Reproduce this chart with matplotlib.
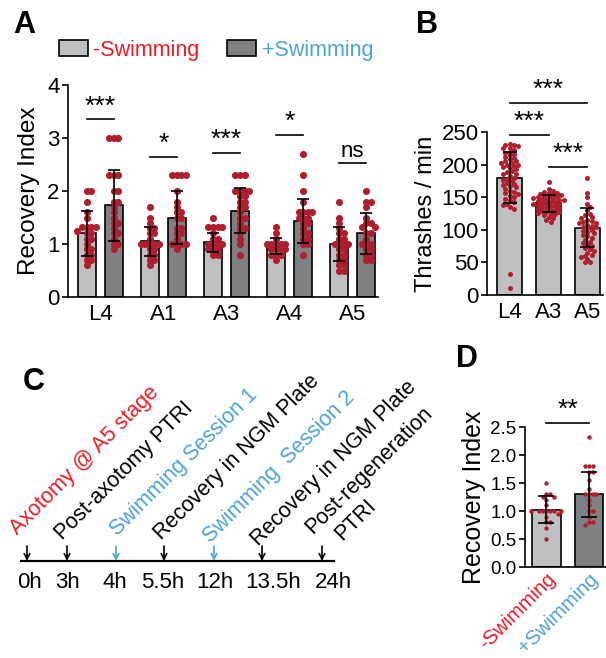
import numpy as np
import matplotlib
matplotlib.use('Agg')
import matplotlib.pyplot as plt
from matplotlib.patches import Patch

plt.rcParams['font.family'] = ['Liberation Sans', 'DejaVu Sans']

# ---------------- data ----------------
# Panel A: recovery index per stage, -/+ swimming
a_stages = ['L4', 'A1', 'A3', 'A4', 'A5']
a_mean_minus = [1.2, 1.05, 1.03, 0.97, 1.0]
a_mean_plus = [1.73, 1.5, 1.63, 1.43, 1.2]
a_sd_minus = [0.42, 0.27, 0.18, 0.15, 0.32]
a_sd_plus = [0.67, 0.5, 0.43, 0.42, 0.38]
a_pts_minus = [
    [2.0, 2.0, 1.8, 1.6, 1.5, 1.33, 1.33, 1.33, 1.33, 1.25, 1.2, 1.2, 1.1, 1.1, 1.0, 0.9, 0.9, 0.8, 0.8, 0.7, 0.7, 0.6],
    [1.7, 1.5, 1.4, 1.3, 1.3, 1.2, 1.2, 1.1, 1.0, 1.0, 1.0, 1.0, 1.0, 0.9, 0.9, 0.8, 0.8, 0.7, 0.7, 0.6],
    [1.5, 1.33, 1.33, 1.33, 1.33, 1.2, 1.1, 1.1, 1.0, 1.0, 1.0, 1.0, 0.9, 0.9, 0.9, 0.8, 0.8],
    [1.33, 1.2, 1.1, 1.0, 1.0, 1.0, 1.0, 1.0, 0.9, 0.9, 0.9, 0.9, 0.8, 0.8, 0.8, 0.7],
    [1.8, 1.5, 1.4, 1.3, 1.2, 1.2, 1.1, 1.1, 1.0, 1.0, 1.0, 1.0, 0.9, 0.9, 0.8, 0.8, 0.7, 0.7, 0.6, 0.6, 0.5, 0.5],
]
a_pts_plus = [
    [3.0, 3.0, 3.0, 2.3, 2.3, 2.3, 2.0, 2.0, 1.8, 1.8, 1.7, 1.6, 1.5, 1.4, 1.4, 1.3, 1.2, 1.2, 1.1, 1.0, 1.0, 0.9],
    [2.3, 2.3, 2.3, 2.3, 2.0, 1.8, 1.7, 1.6, 1.6, 1.5, 1.5, 1.3, 1.3, 1.2, 1.2, 1.1, 1.0, 1.0, 1.0, 1.0, 0.9],
    [2.3, 2.3, 2.3, 2.0, 2.0, 2.0, 2.0, 1.9, 1.9, 1.8, 1.8, 1.7, 1.7, 1.6, 1.5, 1.5, 1.4, 1.3, 1.3, 1.2, 1.1, 1.0, 0.8],
    [2.7, 2.3, 2.0, 1.8, 1.6, 1.6, 1.6, 1.6, 1.5, 1.5, 1.5, 1.4, 1.4, 1.3, 1.2, 1.2, 1.1, 1.1, 1.0, 1.0, 0.8],
    [2.0, 1.8, 1.8, 1.7, 1.5, 1.4, 1.4, 1.33, 1.33, 1.2, 1.2, 1.1, 1.0, 1.0, 1.0, 0.9, 0.9, 0.8, 0.8, 0.7, 0.7],
]
a_sig = ['***', '*', '***', '*', 'ns']
a_sig_y = [3.35, 2.64, 2.72, 3.06, 2.53]

# Panel B: thrashing rate per stage
b_stages = ['L4', 'A3', 'A5']
b_mean = [180, 141, 103]
b_sd = [39, 13, 30]
b_pts = [
    [232, 230, 230, 228, 226, 225, 222, 220, 218, 216, 214, 212, 210, 208, 206, 205, 203, 202, 200, 200,
     198, 196, 195, 193, 190, 188, 186, 185, 183, 180, 178, 176, 175, 172, 170, 168, 167, 165, 163, 160,
     158, 156, 155, 152, 150, 148, 145, 142, 140, 138, 135, 132, 32, 10],
    [173, 162, 160, 158, 157, 156, 155, 154, 153, 152, 151, 150, 150, 149, 148, 147, 146, 145, 145, 144,
     143, 142, 141, 140, 140, 139, 138, 137, 136, 135, 134, 133, 132, 131, 130, 129, 128, 127, 126, 125,
     124, 122, 120, 118, 115, 112],
    [180, 157, 150, 140, 135, 130, 125, 122, 120, 118, 115, 113, 112, 110, 110, 108, 106, 105, 104, 102,
     100, 98, 96, 95, 92, 90, 88, 85, 82, 80, 77, 75, 72, 70, 68, 65, 62, 60, 58, 55, 50, 50],
]
b_sig = [(0, 1, 245), (1, 2, 196), (0, 2, 294)]

# Panel C: timeline
c_times = ['0h', '3h', '4h', '5.5h', '12h', '13.5h', '24h']
c_events = ['Axotomy @ A5 stage', 'Post-axotomy PTRI', 'Swimming Session 1', 'Recovery in NGM Plate',
            'Swimming  Session 2', 'Recovery in NGM Plate', 'Post-regeneration']
c_colors = ['k', 'k', '#4ba3dd', 'k', '#4ba3dd', 'k', 'k']
c_text_colors = ['#ec1c24', 'k', '#4ba3dd', 'k', '#4ba3dd', 'k', 'k']

# Panel D: recovery index -/+ swimming (A5)
d_groups = ['-Swimming', '+Swimming']
d_mean = [1.02, 1.3]
d_sd = [0.24, 0.40]
d_pts = [
    [1.5, 1.3, 1.3, 1.25, 1.25, 1.2, 1.1, 1.0, 1.0, 1.0, 1.0, 1.0, 1.0, 1.0, 0.95, 0.9, 0.8, 0.8, 0.7, 0.5],
    [2.33, 1.8, 1.8, 1.8, 1.7, 1.7, 1.55, 1.4, 1.3, 1.3, 1.3, 1.3, 1.2, 1.1, 1.0, 1.0, 0.9, 0.8, 0.8, 0.75],
]

LIGHT = '#bfc0c2'
DARK = '#7e8082'
DOT = '#b01e2e'
RED = '#ec1c24'
BLUE = '#4ba3dd'


def swarm(vals, px_y, d, f=1.0):
    # simple beeswarm, offsets returned in pixels
    placed = []
    offs = []
    step = d * f
    for v in vals:
        y = v * px_y
        k = 0
        while True:
            cands = [0.0] if k == 0 else [k * step, -k * step]
            ok = None
            for c in cands:
                if all((c - xo) ** 2 + (y - yo) ** 2 >= d * d for xo, yo in placed):
                    ok = c
                    break
            if ok is not None:
                break
            k += 1
        placed.append((ok, y))
        offs.append(ok)
    return np.array(offs)


def style(ax):
    for s in ['top', 'right']:
        ax.spines[s].set_visible(False)
    for s in ['left', 'bottom']:
        ax.spines[s].set_linewidth(1.2)
    ax.tick_params(axis='y', length=4, width=1.2, labelsize=16, pad=2)
    ax.tick_params(axis='x', length=0, labelsize=16, pad=5)


fig = plt.figure(figsize=(6.06, 6.58), dpi=100)

# ---------------- Panel A ----------------
ax = fig.add_axes([68 / 606, 1 - 297 / 658, 310 / 606, 212 / 658])
x = np.arange(len(a_stages))
off = 0.214
w = 0.286
ax.bar(x - off, a_mean_minus, w, color=LIGHT, edgecolor='k', linewidth=1.2, zorder=1)
ax.bar(x + off, a_mean_plus, w, color=DARK, edgecolor='k', linewidth=1.2, zorder=1)
for i in range(len(a_stages)):
    for pts, xc in [(a_pts_minus[i], x[i] - off), (a_pts_plus[i], x[i] + off)]:
        o = swarm(pts, 53, 4.6)
        ax.scatter(xc + o / 63, pts, s=26, color=DOT, linewidths=0, zorder=2)
ax.errorbar(x - off, a_mean_minus, yerr=a_sd_minus, fmt='none', ecolor='k', elinewidth=1.2, capsize=4.5, capthick=1.2, zorder=3)
ax.errorbar(x + off, a_mean_plus, yerr=a_sd_plus, fmt='none', ecolor='k', elinewidth=1.2, capsize=4.5, capthick=1.2, zorder=3)
for i, (t, yy) in enumerate(zip(a_sig, a_sig_y)):
    ax.plot([x[i] - off, x[i] + off], [yy, yy], color='k', lw=1.2, clip_on=False)
    ax.text(x[i], yy + 0.02, t, ha='center', va='bottom', fontsize=19 if t != 'ns' else 16)
ax.set_xlim(-0.51, 4.4)
ax.set_ylim(0, 4)
ax.set_yticks([0, 1, 2, 3, 4])
ax.set_xticks(x)
ax.set_xticklabels(a_stages)
ax.set_ylabel('Recovery Index', fontsize=17.5, labelpad=5)
style(ax)
leg = ax.legend([Patch(facecolor=LIGHT, edgecolor='k', linewidth=1.2),
                 Patch(facecolor=DARK, edgecolor='k', linewidth=1.2)],
                ['-Swimming', '+Swimming'], ncol=2, frameon=False, fontsize=15.5,
                loc='center left', bbox_to_anchor=(-0.03, 1.165), borderpad=0, borderaxespad=0,
                handlelength=1.35, handleheight=0.78, handletextpad=0.25, columnspacing=1.3)
for t, c in zip(leg.get_texts(), [RED, BLUE]):
    t.set_color(c)

# ---------------- Panel B ----------------
ax = fig.add_axes([487 / 606, 1 - 295 / 658, 116 / 606, 163 / 658])
xb = np.arange(len(b_stages))
ax.bar(xb, b_mean, 0.64, color=LIGHT, edgecolor='k', linewidth=1.2, zorder=1)
for i in range(len(b_stages)):
    o = swarm(b_pts[i], 0.652, 3.6, 0.6)
    ax.scatter(xb[i] + o / 39, b_pts[i], s=13, color=DOT, linewidths=0, zorder=2)
ax.errorbar(xb, b_mean, yerr=b_sd, fmt='none', ecolor='k', elinewidth=1.2, capsize=4.8, capthick=1.2, zorder=3)
for i0, i1, yy in b_sig:
    ax.plot([xb[i0], xb[i1]], [yy, yy], color='k', lw=1.2, clip_on=False)
    ax.text((xb[i0] + xb[i1]) / 2, yy + 2, '***', ha='center', va='bottom', fontsize=19)
ax.set_xlim(-0.58, 2.4)
ax.set_ylim(0, 250)
ax.set_yticks([0, 50, 100, 150, 200, 250])
ax.set_xticks(xb)
ax.set_xticklabels(b_stages)
ax.set_ylabel('Thrashes / min', fontsize=17, labelpad=3)
style(ax)

# ---------------- Panel C ----------------
axc = fig.add_axes([0, 0, 1, 1], zorder=-1)
axc.set_xlim(0, 606)
axc.set_ylim(658, 0)
axc.axis('off')
c_x = [27, 67, 116, 164, 214, 262, 322]
c_label_x = [30, 67, 115, 163, 215, 273, 333]
c_text_xy = [(17, 535), (62, 540), (117, 536), (161, 540), (210, 543), (258, 546), (313, 534)]
axc.plot([21, 334], [561, 561], color='k', lw=1.6)
for xi, col in zip(c_x, c_colors):
    axc.annotate('', xy=(xi, 561), xytext=(xi, 546),
                 arrowprops=dict(arrowstyle='->', color=col, lw=1.2, shrinkA=0, shrinkB=0, mutation_scale=10))
for lx, t in zip(c_label_x, c_times):
    axc.text(lx, 582, t, ha='center', va='center', fontsize=16)
for (tx, ty), t, col in zip(c_text_xy, c_events, c_text_colors):
    axc.text(tx, ty, t, rotation=45, rotation_mode='anchor', ha='left', va='baseline',
             fontsize=15.5, color=col)
axc.text(342, 541, 'PTRI', rotation=45, rotation_mode='anchor', ha='left', va='baseline', fontsize=15.5)

# ---------------- Panel D ----------------
ax = fig.add_axes([525 / 606, 1 - 567 / 658, 81 / 606, 140 / 658])
xd = np.arange(len(d_groups))
ax.bar(xd, d_mean, 0.67, color=[LIGHT, DARK], edgecolor='k', linewidth=1.2, zorder=1)
for i in range(len(d_groups)):
    o = swarm(d_pts[i], 56, 3.8)
    ax.scatter(xd[i] + o / 43, d_pts[i], s=10, color=DOT, linewidths=0, zorder=2)
ax.errorbar(xd, d_mean, yerr=d_sd, fmt='none', ecolor='k', elinewidth=1.2, capsize=5.5, capthick=1.2, zorder=3)
ax.plot([xd[0], xd[1]], [2.57, 2.57], color='k', lw=1.2, clip_on=False)
ax.text(0.5, 2.59, '**', ha='center', va='bottom', fontsize=19)
ax.set_xlim(-0.5, 1.4)
ax.set_ylim(0, 2.5)
ax.set_yticks([0, 0.5, 1.0, 1.5, 2.0, 2.5])
ax.set_yticklabels(['0.0', '0.5', '1.0', '1.5', '2.0', '2.5'])
ax.set_xticks(xd)
ax.set_xticklabels(d_groups, rotation=45, ha='right', rotation_mode='anchor')
ax.set_ylabel('Recovery Index', fontsize=18, labelpad=3)
style(ax)
ax.tick_params(axis='y', labelsize=13.5)
ax.tick_params(axis='x', labelsize=14.5, pad=2)
for t, c in zip(ax.get_xticklabels(), [RED, BLUE]):
    t.set_color(c)

# panel letters
for lab, px, py in [('A', 13, 33), ('B', 416, 33), ('C', 23, 390), ('D', 456, 367)]:
    fig.text(px / 606, 1 - py / 658, lab, fontsize=22, fontweight='bold', ha='left', va='baseline')

fig.savefig('out.png', dpi=100)
